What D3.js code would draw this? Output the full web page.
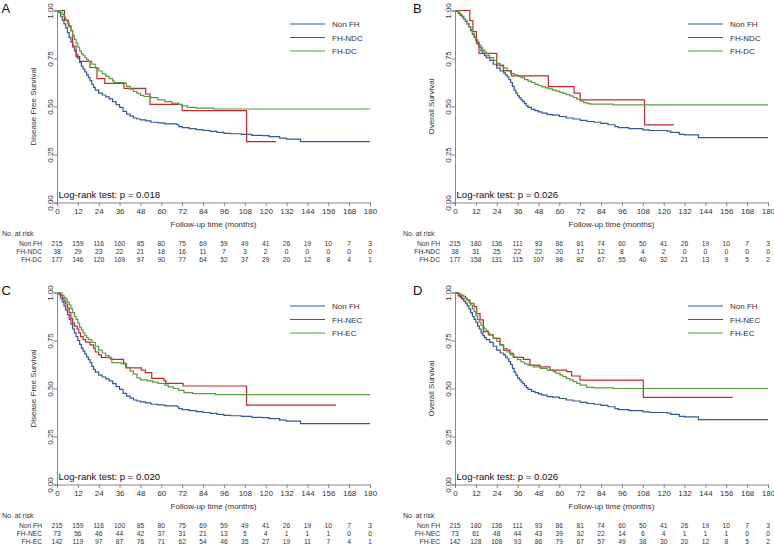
<!DOCTYPE html>
<html><head><meta charset="utf-8">
<script src="https://cdn.jsdelivr.net/npm/d3@7"></script>
<style>
html,body{margin:0;padding:0;background:#fff;}
svg{display:block;font-family:"Liberation Sans",Arial,sans-serif;}
</style></head>
<body>
<svg id="chart" width="774" height="547"></svg>
<script>
// ---------- data ----------
const timeTicks = [0,12,24,36,48,60,72,84,96,108,120,132,144,156,168,180];
const survTicks = [0,0.25,0.5,0.75,1];

// Kaplan-Meier step points [month, survival]
const nonFhDfs = [[0,1],[1,0.99],[2,0.97],[3,0.95],[4,0.93],[5,0.91],[6,0.885],[7,0.86],[8,0.835],[9,0.81],[10,0.79],[11,0.77],[12,0.75],[13,0.73],[14,0.71],[15,0.695],[16,0.68],[17,0.665],[18,0.65],[19,0.635],[20,0.615],[21,0.6],[22,0.585],[24,0.57],[26,0.56],[28,0.55],[30,0.54],[32,0.525],[34,0.51],[36,0.495],[38,0.475],[40,0.46],[42,0.45],[44,0.44],[46,0.435],[48,0.43],[51,0.425],[54,0.418],[58,0.415],[62,0.41],[69,0.405],[70,0.395],[72,0.39],[76,0.385],[80,0.38],[84,0.375],[88,0.37],[92,0.365],[96,0.36],[100,0.358],[106,0.355],[112,0.35],[118,0.348],[122,0.343],[128,0.335],[132,0.33],[140,0.317],[180,0.317]];
const ndcDfs = [[0,1],[4.3,0.95],[6.5,0.92],[8,0.895],[9,0.815],[11,0.76],[13,0.735],[19,0.703],[23,0.645],[27.5,0.62],[38.5,0.594],[51,0.565],[53.5,0.511],[72,0.478],[109,0.317],[126,0.317]];
const dcDfs = [[0,1],[2,0.99],[3,0.98],[4,0.965],[5,0.95],[6,0.935],[7,0.915],[8,0.895],[9,0.87],[10,0.85],[11,0.83],[12,0.81],[13,0.79],[14,0.775],[15,0.765],[16,0.755],[17,0.745],[18,0.735],[20,0.72],[22,0.7],[24,0.685],[26,0.67],[28,0.658],[30,0.645],[32,0.632],[33,0.625],[39,0.62],[40,0.605],[42,0.59],[44,0.578],[46,0.568],[48,0.558],[50,0.552],[54,0.546],[58,0.535],[62,0.525],[66,0.518],[70,0.51],[72,0.503],[75,0.495],[80,0.492],[90,0.487],[180,0.487]];

const nonFhOs = [[0,1],[1,0.995],[2,0.985],[3,0.975],[4,0.965],[5,0.955],[6,0.945],[7,0.93],[8,0.915],[9,0.895],[10,0.875],[11,0.86],[12,0.845],[13,0.825],[14,0.81],[15,0.79],[16,0.775],[17,0.765],[18,0.755],[20,0.74],[22,0.72],[24,0.7],[26,0.685],[28,0.675],[29,0.665],[30,0.655],[31,0.64],[32,0.625],[33,0.605],[34,0.585],[35,0.57],[36,0.555],[37,0.545],[38,0.535],[39,0.525],[40,0.515],[41,0.505],[42,0.495],[44,0.485],[46,0.478],[48,0.472],[50,0.465],[53,0.458],[56,0.455],[60,0.448],[64,0.44],[68,0.435],[72,0.428],[76,0.422],[80,0.418],[84,0.412],[88,0.405],[92,0.395],[94,0.39],[100,0.385],[108,0.378],[112,0.375],[122,0.372],[124,0.365],[129,0.355],[132,0.352],[140,0.338],[180,0.338]];
const ndcOs = [[0,1],[8.5,0.947],[10.3,0.89],[12.3,0.83],[13.8,0.777],[24,0.716],[27.8,0.687],[32.5,0.659],[53.7,0.603],[68.5,0.57],[72,0.534],[109,0.404],[126,0.404]];
const dcOs = [[0,1],[2,0.99],[3,0.98],[4,0.97],[5,0.955],[6,0.945],[7,0.93],[8,0.915],[9,0.9],[10,0.88],[11,0.865],[12,0.85],[13,0.835],[14,0.82],[15,0.805],[16,0.795],[17,0.785],[18,0.775],[19,0.765],[20,0.755],[22,0.74],[24,0.725],[26,0.71],[28,0.7],[30,0.685],[32,0.672],[34,0.665],[36,0.658],[38,0.65],[40,0.64],[42,0.632],[44,0.625],[46,0.615],[48,0.608],[50,0.602],[52,0.597],[54,0.592],[56,0.585],[58,0.58],[60,0.575],[62,0.568],[64,0.562],[66,0.555],[68,0.547],[70,0.538],[72,0.528],[74,0.52],[76,0.515],[78,0.512],[91,0.508],[180,0.508]];

const necDfs = [[0,1],[2,0.985],[3,0.97],[4,0.955],[5,0.94],[6,0.92],[7,0.895],[8,0.865],[9,0.84],[10,0.825],[11.5,0.81],[12.5,0.79],[13.5,0.77],[15,0.755],[16.5,0.742],[19,0.727],[21,0.71],[22,0.69],[24,0.675],[25.5,0.662],[31,0.652],[38.3,0.632],[39.5,0.607],[48.5,0.596],[50.8,0.583],[54.5,0.553],[61.5,0.541],[62.5,0.527],[72.5,0.513],[109,0.413],[160.4,0.413]];
const ecDfs = [[0,1],[2,0.995],[3,0.985],[4,0.975],[5,0.965],[6,0.95],[7,0.935],[8,0.915],[9,0.895],[10,0.875],[11,0.86],[12,0.84],[13,0.82],[14,0.805],[15,0.79],[16,0.775],[17,0.765],[18,0.755],[20,0.74],[22,0.72],[24,0.7],[26,0.685],[28,0.672],[30,0.66],[31.5,0.635],[37,0.628],[40,0.61],[42,0.59],[44,0.575],[46,0.555],[48,0.545],[52,0.54],[55,0.533],[58,0.527],[62,0.518],[64,0.508],[67,0.5],[70,0.49],[73,0.478],[78,0.473],[91,0.468],[180,0.468]];
const necOs = [[0,1],[1.9,0.982],[3.8,0.97],[6.7,0.961],[8.6,0.944],[10.9,0.926],[12.5,0.89],[14.4,0.857],[16.3,0.796],[19.2,0.779],[22,0.761],[25.9,0.727],[27.8,0.7],[31.6,0.683],[33.5,0.662],[39.3,0.652],[43.1,0.622],[48.9,0.613],[54.6,0.596],[64.2,0.588],[67.1,0.565],[71.9,0.544],[108.3,0.454],[159.7,0.454]];
const ecOs = [[0,1],[2,0.995],[3,0.99],[4,0.985],[5,0.98],[6,0.97],[7,0.96],[8,0.95],[9,0.935],[10,0.915],[11,0.9],[12,0.88],[13,0.86],[14,0.845],[15,0.83],[16,0.82],[17,0.81],[18,0.8],[19,0.79],[20,0.779],[22,0.762],[24,0.745],[26,0.727],[28,0.708],[30,0.69],[32,0.675],[34,0.663],[36,0.65],[38,0.638],[40,0.628],[42,0.62],[45,0.613],[49,0.605],[53,0.596],[56.5,0.588],[58,0.58],[60.4,0.57],[62,0.562],[64,0.553],[66,0.545],[68,0.536],[70,0.527],[72,0.518],[75.7,0.506],[80,0.503],[91,0.5],[180,0.5]];

// numbers at risk
const riskNonFhDfs = [215,159,116,100,85,80,75,69,59,49,41,26,19,10,7,3];
const riskNdcDfs = [38,29,23,22,21,18,16,11,7,3,2,0,0,0,0,0];
const riskDcDfs = [177,146,120,109,97,90,77,64,52,37,29,20,12,8,4,1];
const riskNonFhOs = [215,180,136,111,93,86,81,74,60,50,41,26,19,10,7,3];
const riskNdcOs = [38,31,25,22,22,20,17,12,8,4,2,0,0,0,0,0];
const riskDcOs = [177,158,131,115,107,98,82,67,55,40,32,21,13,9,5,2];
const riskNecDfs = [73,56,46,44,42,37,31,21,13,5,4,1,1,1,0,0];
const riskEcDfs = [142,119,97,87,76,71,62,54,46,35,27,19,11,7,4,1];
const riskNecOs = [73,61,48,44,43,39,32,22,14,6,4,1,1,1,0,0];
const riskEcOs = [142,128,108,93,86,79,67,57,49,38,30,20,12,8,5,2];

const panelLetters = ["A","B","C","D"];
const yTitles = ["Disease Free Survival","Overall Survival","Disease Free Survival","Overall Survival"];
const pValues = ["Log-rank test: p = 0.018","Log-rank test: p = 0.026","Log-rank test: p = 0.020","Log-rank test: p = 0.026"];
const groupNamesAB = ["Non FH","FH-NDC","FH-DC"];
const groupNamesCD = ["Non FH","FH-NEC","FH-EC"];
const seriesColors = ["#34589a","#bf2a30","#5c9c3c"];

// ---------- build ----------
const panels = [
  {dx:0, dy:0, names:groupNamesAB, curves:[nonFhDfs,ndcDfs,dcDfs], risk:[riskNonFhDfs,riskNdcDfs,riskDcDfs]},
  {dx:398, dy:0, names:groupNamesAB, curves:[nonFhOs,ndcOs,dcOs], risk:[riskNonFhOs,riskNdcOs,riskDcOs]},
  {dx:0, dy:282, names:groupNamesCD, curves:[nonFhDfs,necDfs,ecDfs], risk:[riskNonFhDfs,riskNecDfs,riskEcDfs]},
  {dx:398, dy:282, names:groupNamesCD, curves:[nonFhOs,necOs,ecOs], risk:[riskNonFhOs,riskNecOs,riskEcOs]}
];

const svg = d3.select("#chart");
const x = d3.scaleLinear().domain([0,180]).range([57,370]);
const y = d3.scaleLinear().domain([0,1]).range([202.5,10.5]);
const axisColor = "#7a7a7a";
const textColor = "#333";

panels.forEach((p,i)=>{
  const g = svg.append("g").attr("transform",`translate(${p.dx},${p.dy})`);
  // panel letter
  g.append("text").attr("x", i%2===0 ? 1.5 : 15).attr("y",13).attr("font-size",13).attr("fill","#111").text(panelLetters[i]);

  // x axis
  const xa = g.append("g").attr("transform",`translate(0,${y(0)})`)
    .call(d3.axisBottom(x).tickValues(timeTicks).tickSize(3.5).tickPadding(2).tickFormat(d3.format("d")));
  xa.select(".domain").attr("stroke",axisColor).attr("stroke-width",0.9);
  xa.selectAll(".tick line").attr("stroke",axisColor).attr("stroke-width",0.9);
  xa.selectAll(".tick text").attr("font-size",8).attr("fill",textColor).attr("font-family","Liberation Sans, Arial, sans-serif");

  // y axis
  const ya = g.append("g").attr("transform",`translate(${x(0)},0)`)
    .call(d3.axisLeft(y).tickValues(survTicks).tickSize(3.5).tickFormat(d3.format(".2f")));
  ya.select(".domain").attr("stroke",axisColor).attr("stroke-width",0.9);
  ya.selectAll(".tick line").attr("stroke",axisColor).attr("stroke-width",0.9);
  ya.selectAll(".tick text").attr("font-size",8).attr("fill",textColor)
    .attr("font-family","Liberation Sans, Arial, sans-serif")
    .attr("x",null).attr("dy",null)
    .attr("text-anchor","middle")
    .attr("transform","translate(-4.5,0) rotate(-90)");

  // y title
  g.append("text").attr("transform",`translate(36,${(y(0)+y(1))/2}) rotate(-90)`)
    .attr("text-anchor","middle").attr("font-size",8).attr("fill",textColor).text(yTitles[i]);
  // x title
  g.append("text").attr("x",(x(0)+x(180))/2).attr("y",226.5).attr("text-anchor","middle")
    .attr("font-size",8).attr("fill",textColor).text("Follow-up time (months)");

  // curves
  const line = d3.line().x(d=>x(d[0])).y(d=>y(d[1])).curve(d3.curveStepAfter);
  p.curves.forEach((c,k)=>{
    g.append("path").datum(c).attr("d",line).attr("fill","none")
      .attr("stroke",seriesColors[k]).attr("stroke-width",1.2);
  });

  // legend
  p.names.forEach((n,k)=>{
    const ly = 24 + k*13.5;
    g.append("line").attr("x1",290).attr("x2",325).attr("y1",ly).attr("y2",ly)
      .attr("stroke",seriesColors[k]).attr("stroke-width",1.2);
    g.append("text").attr("x",332).attr("y",ly+3).attr("font-size",8).attr("fill",textColor).text(n);
  });

  // log-rank
  g.append("text").attr("x",58.5).attr("y",198).attr("font-size",9.6).attr("fill","#111").text(pValues[i]);

  // risk table
  g.append("text").attr("x", i%2===0 ? 2 : 5).attr("y",236).attr("font-size",7).attr("fill",textColor).text("No. at risk");
  p.names.forEach((n,k)=>{
    const ry = 246.3 + k*7.9;
    g.append("text").attr("x",42).attr("y",ry).attr("text-anchor","end").attr("font-size",6.7).attr("fill",textColor).text(n);
    g.selectAll(null).data(p.risk[k]).enter().append("text")
      .attr("x",(d,j)=>x(timeTicks[j])).attr("y",ry).attr("text-anchor","middle")
      .attr("font-size",6.7).attr("fill",textColor).text(d=>d);
  });
});
</script>
</body></html>
